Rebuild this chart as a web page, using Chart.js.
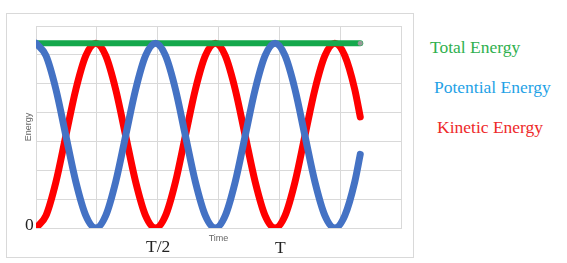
<!DOCTYPE html>
<html>
<head>
<meta charset="utf-8">
<script src="https://cdn.jsdelivr.net/npm/chart.js@4/dist/chart.umd.min.js"></script>
<style>
  body { margin: 0; width: 567px; height: 263px; background: #fff; position: relative; overflow: hidden; }
  #box { position: absolute; left: 6px; top: 13px; width: 406px; height: 243px; border: 1px solid #d9d9d9; }
  .lbl { position: absolute; font-family: "Liberation Serif", "Times New Roman", serif; font-size: 17.5px; line-height: 17px; white-space: nowrap; }
</style>
</head>
<body>
<div id="box"><canvas id="chart" width="406" height="243"></canvas></div>
<div class="lbl" style="left:430px;top:39px;color:#2fb04e">Total Energy</div>
<div class="lbl" style="left:434px;top:79px;color:#1fa2e6">Potential Energy</div>
<div class="lbl" style="left:437px;top:119px;color:#ee2a2a">Kinetic Energy</div>
<div class="lbl" style="left:25px;top:216px;color:#222">0</div>
<div class="lbl" style="left:146px;top:238px;color:#222">T/2</div>
<div class="lbl" style="left:275px;top:239px;color:#222">T</div>
<script>
// time samples (axis units, one grid step = 1)
const times = [0, 0.164, 0.328, 0.491, 0.655, 0.819, 0.983, 1.146, 1.31, 1.474, 1.638, 1.801,
  1.965, 2.129, 2.293, 2.456, 2.62, 2.784, 2.948, 3.111, 3.275, 3.439, 3.603, 3.766,
  3.93, 4.094, 4.258, 4.421, 4.585, 4.749, 4.913, 5.076, 5.24, 5.33];

const totalEnergy = [6.4, 6.4, 6.4, 6.4, 6.4, 6.4, 6.4, 6.4, 6.4, 6.4, 6.4, 6.4,
  6.4, 6.4, 6.4, 6.4, 6.4, 6.4, 6.4, 6.4, 6.4, 6.4, 6.4, 6.4,
  6.4, 6.4, 6.4, 6.4, 6.4, 6.4, 6.4, 6.4, 6.4, 6.4];

const potentialEnergy = [6.4, 5.97, 4.8, 3.2, 1.6, 0.43, 0, 0.43, 1.6, 3.2, 4.8, 5.97,
  6.4, 5.97, 4.8, 3.2, 1.6, 0.43, 0, 0.43, 1.6, 3.2, 4.8, 5.97,
  6.4, 5.97, 4.8, 3.2, 1.6, 0.43, 0, 0.43, 1.6, 2.55];

const kineticEnergy = [0, 0.43, 1.6, 3.2, 4.8, 5.97, 6.4, 5.97, 4.8, 3.2, 1.6, 0.43,
  0, 0.43, 1.6, 3.2, 4.8, 5.97, 6.4, 5.97, 4.8, 3.2, 1.6, 0.43,
  0, 0.43, 1.6, 3.2, 4.8, 5.97, 6.4, 5.97, 4.8, 3.85];

const pts = (vals) => times.map((t, i) => ({ x: t, y: vals[i] }));

const lineStyle = {
  pointRadius: 0,
  borderWidth: 7,
  borderCapStyle: "round",
  borderJoinStyle: "round",
  cubicInterpolationMode: "monotone",
  fill: false
};

new Chart(document.getElementById("chart"), {
  type: "line",
  data: {
    datasets: [
      { ...lineStyle, label: "Potential Energy", data: pts(potentialEnergy), borderColor: "#4472c4", order: 0 },
      { ...lineStyle, label: "Total Energy", data: pts(totalEnergy), borderColor: "#14a84c", order: 1,
        borderWidth: 6,
        pointRadius: (ctx) => ctx.dataIndex === times.length - 1 ? 2.5 : 0,
        pointBackgroundColor: "#999", pointBorderWidth: 0 },
      { ...lineStyle, label: "Kinetic Energy", data: pts(kineticEnergy), borderColor: "#ff0000", order: 2 }
    ]
  },
  options: {
    responsive: false,
    animation: false,
    layout: { padding: { left: 0, right: 12, top: 12, bottom: 0 } },
    plugins: { legend: { display: false }, tooltip: { enabled: false } },
    scales: {
      x: {
        type: "linear",
        min: 0,
        max: 6,
        ticks: { display: false, stepSize: 1 },
        grid: { color: "#d9d9d9", drawTicks: false },
        border: { color: "#d9d9d9" },
        title: { display: true, text: "Time", color: "#666",
          font: { family: "Liberation Sans", size: 9 }, padding: { top: 0, bottom: 13 } },
        afterFit: (s) => { s.height = 29; }
      },
      y: {
        min: 0,
        max: 7,
        ticks: { display: false, stepSize: 1 },
        grid: { color: "#d9d9d9", drawTicks: false },
        border: { color: "#d9d9d9" },
        title: { display: true, text: "Energy", color: "#666",
          font: { family: "Liberation Sans", size: 9 }, padding: { top: 16, bottom: 0 } },
        afterFit: (s) => { s.width = 29; }
      }
    }
  }
});
</script>
</body>
</html>
